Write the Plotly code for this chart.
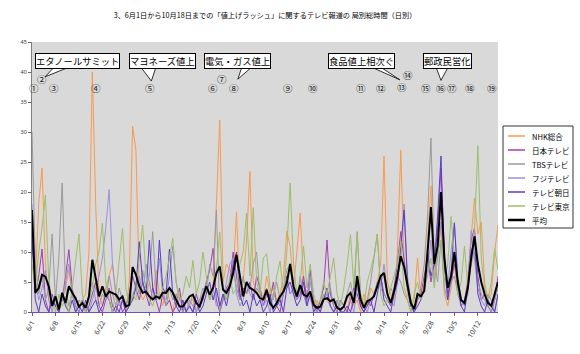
import plotly.graph_objects as go
import pandas as pd

# ---------------- data ----------------
dates = pd.date_range("2007-06-01", "2007-10-18", freq="D")
day_labels = [f"{d.month}/{d.day}" for d in dates]

tick_labels = ["6/1", "6/8", "6/15", "6/22", "6/29", "7/6", "7/13", "7/20", "7/27",
               "8/3", "8/10", "8/17", "8/24", "8/31", "9/7", "9/14", "9/21", "9/28",
               "10/5", "10/12"]

series_names = ["NHK総合", "日本テレビ", "TBSテレビ", "フジテレビ", "テレビ朝日", "テレビ東京", "平均"]

nhk = [15, 5, 18, 24, 8, 2, 1,
       3, 0, 2, 4, 7, 3, 1,
       0, 2, 3, 10, 40, 18, 3,
       1, 4, 6, 8, 3, 1, 2,
       0, 5, 31, 27, 4, 2, 3,
       5, 2, 7, 3, 1, 4, 2,
       0, 3, 3, 1, 0, 2, 2,
       0, 1, 3, 5, 2, 4, 18,
       32, 5, 8, 7, 6, 16.7, 3,
       5, 12, 23.4, 5, 3, 4, 2,
       6, 3, 4, 2, 3, 6, 13.5,
       11, 4, 10, 16.5, 5, 3, 2,
       1, 2, 0, 3, 2, 1, 0,
       2, 0, 1, 0, 3, 1, 2,
       0, 3, 1, 4, 3, 5, 8,
       26, 5, 3, 2, 10, 27, 8,
       3, 1, 2, 9, 2, 5, 12,
       21, 6, 10, 14, 3, 1, 4,
       9, 3, 2, 1, 6, 12, 19,
       13, 15, 5, 2, 3, 10, 14.5]

ntv = [14, 3, 6, 10.5, 2, 0, 3,
       1, 0, 2, 6, 10.4, 4, 1,
       0, 2, 0, 1, 3, 5, 1,
       0, 2, 4, 1, 0, 2, 0,
       1, 3, 6, 4, 2, 5, 3,
       1, 4, 2, 0, 3, 1, 2,
       0, 1, 4, 0, 2, 1, 0,
       3, 1, 2, 5, 7, 10.6, 2,
       0, 2, 4, 5, 10, 6, 2,
       4, 3, 5, 2, 6, 4, 1,
       3, 2, 5, 1, 0, 3, 6,
       3, 4, 2, 3, 6, 2, 7,
       1, 0, 2, 4, 12, 3, 1,
       0, 2, 1, 0, 2, 4, 3,
       1, 0, 2, 1, 3, 4, 6,
       3, 2, 1, 4, 8, 13.4, 9,
       4, 1, 0, 2, 3, 6, 9,
       5, 8, 14, 24, 10, 3, 5,
       8, 4, 1, 2, 5, 12, 14,
       6, 2, 3, 1, 0, 2, 6]

tbs = [30, 8, 3, 6, 2, 4, 13,
       2, 9, 21.5, 4, 1, 3, 0,
       2, 1, 0, 3, 5, 2, 1,
       3, 2, 6, 3, 1, 4, 2,
       1, 3, 2, 5, 3, 7, 4,
       6, 13.4, 4, 2, 3, 1, 4,
       2, 3, 1, 0, 2, 1, 3,
       0, 2, 4, 3, 8, 6, 17,
       0, 3, 2, 5, 7, 4, 2,
       6, 3, 4, 8, 10, 3, 2,
       4, 1, 3, 5, 2, 4, 7,
       8, 3, 2, 4, 3, 1, 5,
       2, 0, 1, 3, 2, 4, 1,
       0, 2, 1, 3, 5, 2, 13.4,
       3, 1, 2, 5, 9, 13, 4,
       3, 2, 4, 3, 6, 5, 3,
       2, 0, 1, 2, 4, 8, 16,
       29, 9, 5, 12, 4, 2, 5,
       6, 3, 1, 2, 4, 8, 10,
       5, 3, 2, 1, 0, 2, 4]

fuji = [18, 5, 2, 4, 7, 2, 0,
        3, 1, 2, 5, 8, 3, 1,
        0, 2, 1, 0, 2, 4, 6,
        9, 14, 20.4, 8, 3, 1, 2,
        0, 1, 3, 4, 6, 3, 8,
        5, 2, 4, 9, 3, 2, 6,
        11, 5, 2, 1, 0, 2, 1,
        0, 2, 3, 5, 2, 4, 1,
        1, 2, 5, 8, 9, 3, 1,
        2, 5, 3, 2, 4, 3, 1,
        2, 0, 3, 2, 1, 3, 5,
        3, 4, 2, 6, 3, 1, 6,
        2, 0, 1, 2, 3, 1, 0,
        2, 0, 1, 3, 2, 0, 4,
        2, 1, 0, 2, 3, 5, 4,
        8, 3, 2, 1, 5, 9, 18,
        6, 2, 0, 3, 2, 4, 7,
        12, 5, 9, 15, 7, 4, 10,
        15, 6, 2, 1, 3, 13.6, 9,
        4, 2, 1, 3, 2, 0, 3]

tva = [12, 2, 0, 3, 1, 0, 2,
       1, 0, 3, 1, 0, 2, 0,
       1, 0, 2, 0, 1, 2, 0,
       1, 3, 2, 0, 1, 0, 2,
       0, 1, 2, 4, 11.7, 5, 3,
       12, 4, 2, 12, 4, 3, 10.5,
       3, 1, 0, 2, 0, 1, 0,
       2, 0, 1, 3, 5, 2, 4,
       1, 3, 1, 4, 8, 10, 3,
       1, 2, 0, 3, 1, 2, 0,
       1, 3, 0, 1, 2, 0, 4,
       5, 3, 1, 2, 5, 1, 3,
       0, 1, 0, 2, 4, 1, 0,
       1, 0, 0, 1, 0, 2, 5,
       1, 0, 1, 2, 0, 3, 6,
       2, 1, 0, 3, 5, 11, 17,
       5, 1, 0, 1, 2, 4, 10,
       6, 8, 16, 26, 8, 2, 6,
       14.8, 5, 1, 0, 4, 10, 12,
       3, 1, 0, 2, 1, 0, 3]

tvt = [8, 4, 10, 14, 19.5, 5, 2,
       0, 3, 1, 2, 0, 4, 9,
       13, 3, 0, 2, 4, 8, 10,
       14.8, 5, 2, 0, 3, 9, 14,
       4, 1, 3, 2, 9, 14.5, 6,
       2, 1, 3, 2, 4, 6, 9,
       12.3, 5, 2, 3, 6, 4, 8.6,
       3, 5, 10, 6, 2, 4, 7,
       13.3, 4, 2, 6, 3, 4, 8,
       10, 16.5, 6, 17.4, 5, 3, 9,
       9.7, 4, 2, 6, 8.5, 3, 10,
       21.5, 8, 3, 5, 11, 4, 8,
       3, 1, 2, 5, 3, 6, 9,
       3, 1, 4, 8, 12.9, 4, 13,
       3, 1, 5, 7, 9.3, 12.9, 3,
       1, 2, 4, 6, 8, 11.8, 4,
       2, 0, 3, 5, 2, 4, 6,
       9, 4, 10, 12, 5, 8, 15.9,
       9, 3, 5, 11, 4, 8, 14,
       27.7, 9, 4, 2, 5, 10.6, 7]

avg = [17, 3.2, 4, 6.2, 5.9, 4.3, 1,
       2.6, 0.4, 3.2, 1.5, 4.3, 3.2, 2.3,
       0.9, 1.5, 0.7, 2.6, 8.7, 5.4, 2.6,
       4.3, 2.6, 3.4, 3.2, 2.9, 2.1, 2.6,
       0.9, 1.2, 7.5, 6.2, 4.3, 3.2, 3.4,
       2.6, 2.1, 2.6, 2.3, 3.2, 3.2, 4.0,
       3.2, 2.1, 0.9, 0.9, 1.8, 2.6, 2.9,
       1.5, 0.9, 2.5, 4.3, 2.9, 4.0, 6.5,
       7.6, 3.7, 3.2, 4.3, 6.5, 9.5, 5.9,
       2.6, 5.0, 4.0, 3.7, 3.2, 2.3, 2.1,
       3.7, 1.5, 0.7, 1.5, 2.6, 3.4, 4.8,
       8.0, 4.3, 2.6, 4.5, 2.9, 2.6, 3.4,
       1.2, 0.7, 0.9, 2.1, 2.3, 1.8, 2.1,
       0.7, 0.4, 0.9, 2.6, 3.2, 1.5, 6.0,
       2.1, 0.7, 1.8, 2.1, 2.6, 4.3, 6.0,
       6.5, 3.0, 1.5, 3.5, 6.0, 9.3, 7.5,
       4.5, 1.5, 0.5, 3.0, 2.6, 3.5, 10.0,
       17.5, 8.0, 11.0, 20.0, 9.0, 4.0, 6.0,
       10.0, 5.0, 2.0, 1.5, 4.0, 9.0, 12.6,
       8.0, 5.0, 3.0, 1.5, 1.0, 3.0, 5.0]

series_values = [nhk, ntv, tbs, fuji, tva, tvt, avg]

# event markers: (label, day position, height)
event_labels = ["①", "②", "③", "④", "⑤", "⑥", "⑦", "⑧", "⑨", "⑩",
                "⑪", "⑫", "⑬", "⑭", "⑮", "⑯", "⑰", "⑱", "⑲"]
event_days = [0.5, 3.0, 6.7, 19.0, 35.2, 54.0, 56.6, 60.4, 76.3, 83.7,
              98.0, 104.2, 110.3, 112.2, 117.4, 122.0, 125.3, 130.5, 137.2]
event_heights = [37.4, 38.8, 37.4, 37.4, 37.4, 37.4, 38.8, 37.4, 37.4, 37.4,
                 37.4, 37.4, 37.5, 39.5, 37.4, 37.4, 37.4, 37.4, 37.4]

callout_texts = ["エタノールサミット", "マヨネーズ値上", "電気・ガス値上", "食品値上相次ぐ", "郵政民営化"]
callout_centers = [13.6, 38.8, 61.3, 98.3, 124.0]
callout_bases = [(6.9, 11.9), (32.2, 37.1), (62.7, 65.9), (100.5, 103.5), (120.4, 124.3)]
callout_tips = [(3.9, 39.2), (35.6, 38.5), (61.4, 38.8), (109.7, 38.7), (122.0, 38.6)]

# ---------------- style ----------------
colors = ["#F89A4E", "#A43FB0", "#9A9A9A", "#9C8FD8", "#5A3CC4", "#9DBE6A", "#000000"]
widths = [1, 1, 1, 1, 1, 1, 2]
JP = "Noto Sans CJK JP"

W, H = 580, 354
L, R, T, B = 32, 82, 42, 42


def px_x(px):
    return (px - L) / (W - L - R)


def px_y(py):
    return (H - B - py) / (H - T - B)


x_idx = list(range(len(day_labels)))
tickvals = [day_labels.index(t) for t in tick_labels]

fig = go.Figure()
for name, vals, c, w in zip(series_names, series_values, colors, widths):
    fig.add_trace(go.Scatter(x=x_idx, y=vals, mode="lines", name=name,
                             line=dict(color=c, width=w), showlegend=False,
                             text=day_labels, hovertemplate="%{text}: %{y}<extra>" + name + "</extra>"))

shapes = []
annotations = []

# callout wedges + boxes
for txt, cx, (b1, b2), (tx, ty) in zip(callout_texts, callout_centers, callout_bases, callout_tips):
    shapes.append(dict(type="path", xref="x", yref="y",
                       path=f"M {b1},41.0 L {tx},{ty} L {b2},41.0 Z",
                       fillcolor="white", line=dict(color="black", width=0.8), layer="above"))
    annotations.append(dict(x=cx, y=41.9, xref="x", yref="y", text=txt, showarrow=False,
                            xanchor="center", yanchor="middle",
                            font=dict(family=JP, size=9.3, color="black"),
                            bgcolor="white", bordercolor="black", borderwidth=1, borderpad=0))

for lab, d, h in zip(event_labels, event_days, event_heights):
    annotations.append(dict(x=d, y=h, xref="x", yref="y", text=lab, showarrow=False,
                            xanchor="center", yanchor="middle",
                            font=dict(family=JP, size=9.5, color="#222222")))

# custom legend
shapes.append(dict(type="rect", xref="paper", yref="paper",
                   x0=px_x(503), x1=px_x(573), y0=px_y(228), y1=px_y(126),
                   fillcolor="white", line=dict(color="#333333", width=1), layer="above"))
for i, (name, c, w) in enumerate(zip(series_names, colors, widths)):
    yy = 136 + 14 * i
    shapes.append(dict(type="line", xref="paper", yref="paper",
                       x0=px_x(508), x1=px_x(525), y0=px_y(yy), y1=px_y(yy),
                       line=dict(color=c, width=w + 0.5), layer="above"))
    annotations.append(dict(x=px_x(530), y=px_y(yy), xref="paper", yref="paper", text=name,
                            showarrow=False, xanchor="left", yanchor="middle",
                            font=dict(family=JP, size=7.5, color="black")))

fig.update_layout(
    width=W, height=H,
    margin=dict(l=L, r=R, t=T, b=B),
    paper_bgcolor="white",
    plot_bgcolor="#D9D9D9",
    title=dict(text="3、6月1日から10月18日までの「値上げラッシュ」に関するテレビ報道の 局別総時間（日別）",
               x=0.5, xref="paper", xanchor="center", y=1 - 15 / H, yref="container",
               yanchor="middle", font=dict(family=JP, size=7.2, color="black")),
    shapes=shapes,
    annotations=annotations,
    showlegend=False,
)
fig.update_xaxes(range=[0, len(day_labels) - 1], tickmode="array", tickvals=tickvals,
                 ticktext=tick_labels, tickangle=-60, ticks="outside", ticklen=3,
                 tickcolor="#666666", showline=True, linecolor="#6A4FC0", linewidth=1,
                 showgrid=False, zeroline=False,
                 tickfont=dict(family="Noto Sans", size=7, color="#333333"))
fig.update_yaxes(range=[0, 45], dtick=5, ticks="outside", ticklen=3, tickcolor="#666666",
                 showline=True, linecolor="#808080", linewidth=1, showgrid=False,
                 zeroline=False, tickfont=dict(family="Noto Sans", size=5.5, color="#333333"))

fig.write_html("out.html")
